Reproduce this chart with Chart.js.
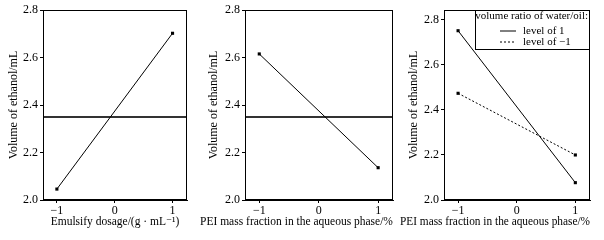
<!DOCTYPE html>
<html>
<head>
    <title></title>
    <script src="https://cdn.jsdelivr.net/npm/chart.js"></script>
    <style>
        body { margin: 0; background: #fff; }
        .panel { position: absolute; top: 0; height: 240px; }
    </style>
</head>
<body>
    <div class="panel" style="left:0;width:200px"><canvas id="chartA" width="200" height="240"></canvas></div>
    <div class="panel" style="left:200px;width:200px"><canvas id="chartB" width="200" height="240"></canvas></div>
    <div class="panel" style="left:400px;width:204px"><canvas id="chartC" width="204" height="240"></canvas></div>

    <script>
        // data
        const levels = [-1, 1];
        const xTicks = [-1, 0, 1];
        const yTicks = [2.0, 2.2, 2.4, 2.6, 2.8];
        const volA = [2.046, 2.702];
        const volB = [2.615, 2.136];
        const volCHigh = [2.752, 2.077];   // water/oil level of 1
        const volCLow = [2.474, 2.200];    // water/oil level of -1
        const meanA = 2.35;
        const meanB = 2.35;

        Chart.defaults.font.family = '"Liberation Serif", "DejaVu Serif", serif';
        Chart.defaults.color = '#000';

        const minus = v => v < 0 ? '\u2212' + Math.abs(v) : String(v);

        // box around the plot, optional mean line, optional legend
        const extras = {
            id: 'extras',
            beforeDatasetsDraw(chart, args, opts) {
                if (opts.mean == null) return;
                const { ctx, chartArea: a } = chart;
                const y = chart.scales.y.getPixelForValue(opts.mean);
                ctx.save();
                ctx.strokeStyle = '#333';
                ctx.lineWidth = 2;
                ctx.beginPath();
                ctx.moveTo(a.left, y);
                ctx.lineTo(a.right, y);
                ctx.stroke();
                ctx.restore();
            },
            afterDraw(chart, args, opts) {
                const { ctx, chartArea: a } = chart;
                ctx.save();
                ctx.strokeStyle = '#000';
                ctx.lineWidth = 1;
                ctx.strokeRect(a.left + 0.5, a.top + 0.5, a.right - a.left - 1, a.bottom - a.top - 1);
                if (opts.legendTitle) {
                    const left = a.right - opts.legendWidth;
                    ctx.strokeRect(left + 0.5, a.top + 0.5, opts.legendWidth - 1, opts.legendHeight);
                    ctx.font = '11px "Liberation Serif"';
                    ctx.fillStyle = '#000';
                    ctx.textBaseline = 'middle';
                    ctx.textAlign = 'right';
                    ctx.fillText(opts.legendTitle, a.right - 2, a.top + 6);
                    chart.data.datasets.forEach((ds, i) => {
                        const y = a.top + 21 + i * 11;
                        ctx.setLineDash(ds.borderDash || []);
                        ctx.beginPath();
                        ctx.moveTo(left + 25, y);
                        ctx.lineTo(left + 41, y);
                        ctx.stroke();
                        ctx.setLineDash([]);
                        ctx.textAlign = 'left';
                        ctx.fillText(ds.label, left + 48, y);
                    });
                }
                ctx.restore();
            }
        };

        function lineSet(label, values, dash) {
            return {
                label: label,
                data: levels.map((x, i) => ({ x: x, y: values[i] })),
                borderColor: '#000',
                borderWidth: 1,
                borderDash: dash || [],
                pointStyle: 'rect',
                pointRadius: 2.2,
                pointBackgroundColor: '#000',
                pointBorderWidth: 0
            };
        }

        function makeChart(id, datasets, o) {
            const xTitle = o.xTitle;
            return new Chart(document.getElementById(id), {
                type: 'line',
                data: { datasets: datasets },
                plugins: [extras],
                options: {
                    responsive: false,
                    animation: false,
                    layout: { padding: { top: 10, right: o.right, left: 0, bottom: 0 } },
                    plugins: {
                        legend: { display: false },
                        tooltip: { enabled: false },
                        title: {
                            display: !o.axisTitle,
                            position: 'bottom',
                            text: xTitle,
                            font: { size: 11.5, weight: 'normal' },
                            padding: { top: 0, bottom: 11 }
                        },
                        extras: o.extras
                    },
                    scales: {
                        x: {
                            type: 'linear',
                            min: -1.24,
                            max: 1.25,
                            afterBuildTicks: s => { s.ticks = xTicks.map(v => ({ value: v })); },
                            afterFit: s => { s.height = o.axisTitle ? 40 : 240 - 200 - (11.5 * 1.2 + 11); },
                            grid: { drawOnChartArea: false, tickLength: 3, color: '#000' },
                            border: { color: '#000' },
                            ticks: { callback: minus, font: { size: 12 }, padding: 1, maxRotation: 0 },
                            title: {
                                display: !!o.axisTitle,
                                text: xTitle,
                                font: { size: 11.5 },
                                padding: { top: 0, bottom: 11 }
                            }
                        },
                        y: {
                            min: 2.0,
                            max: o.yMax,
                            afterBuildTicks: s => { s.ticks = yTicks.map(v => ({ value: v })); },
                            afterFit: s => { s.width = o.yWidth; },
                            grid: { drawOnChartArea: false, tickLength: 3, color: '#000' },
                            border: { color: '#000' },
                            ticks: { callback: v => v.toFixed(1), font: { size: 12 }, padding: 2 },
                            title: {
                                display: true,
                                text: 'Volume of ethanol/mL',
                                font: { size: 12 },
                                padding: { top: 7, bottom: 0 }
                            }
                        }
                    }
                }
            });
        }

        makeChart('chartA', [lineSet('A', volA)], {
            xTitle: 'Emulsify dosage/(g \u00b7 mL\u207b\u00b9)', axisTitle: true,
            right: 13, yWidth: 43, yMax: 2.8,
            extras: { mean: meanA }
        });

        makeChart('chartB', [lineSet('B', volB)], {
            xTitle: 'PEI mass fraction in the aqueous phase/%', axisTitle: false,
            right: 7, yWidth: 45, yMax: 2.8,
            extras: { mean: meanB }
        });

        makeChart('chartC', [
            lineSet('level of 1', volCHigh),
            lineSet('level of \u22121', volCLow, [2, 2])
        ], {
            xTitle: 'PEI mass fraction in the aqueous phase/%', axisTitle: false,
            right: 14, yWidth: 44, yMax: 2.844,
            extras: { legendTitle: 'volume ratio of water/oil:', legendWidth: 115, legendHeight: 39 }
        });
    </script>
</body>
</html>
